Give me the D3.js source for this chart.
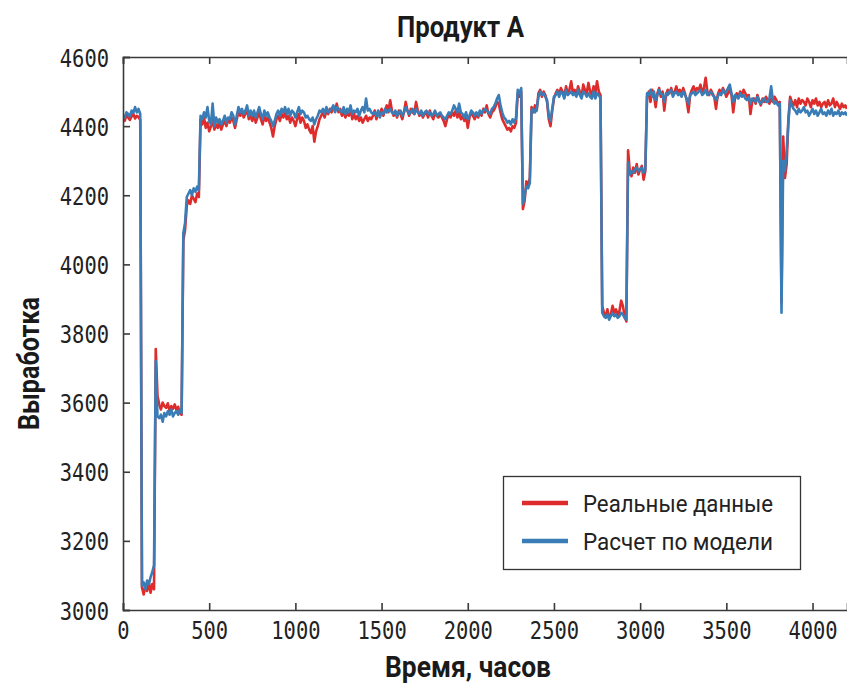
<!DOCTYPE html>
<html>
<head>
<meta charset="utf-8">
<script src="https://cdn.jsdelivr.net/npm/d3@7"></script>
<style>
  html, body { margin: 0; padding: 0; background: #fff; }
  svg { display: block; }
</style>
</head>
<body>
<svg id="chart" width="847" height="686"></svg>
<script>
// Hourly output of product A, sampled every 10 hours (index * STEP = hour).
const STEP = 10;

const realData = [
  4420, 4415, 4432, 4425, 4418, 4428, 4435, 4422, 4430, 4426, 4418,
  3065, 3045, 3070, 3055, 3080, 3050, 3075, 3060,
  3755, 3620,
  3595, 3580, 3600, 3590, 3585, 3598, 3575, 3590, 3582, 3595, 3578, 3588, 3570, 3565,
  4070, 4100, 4170, 4185, 4175, 4200, 4190, 4180, 4205, 4195,
  4420, 4405, 4425, 4395, 4410, 4385, 4400, 4415, 4390, 4405,
  4395, 4410, 4390, 4405, 4415, 4400, 4420, 4410, 4425, 4415,
  4395, 4420, 4440, 4430, 4445, 4425, 4435, 4450, 4420, 4430,
  4415, 4435, 4410, 4425, 4440, 4420, 4405, 4430, 4415, 4425,
  4410, 4395, 4370, 4400, 4420, 4430, 4415, 4435, 4425, 4440,
  4420, 4430, 4410, 4425, 4415, 4400, 4420, 4435, 4410, 4425,
  4415, 4395, 4405, 4390, 4380, 4400, 4355, 4385, 4400, 4420,
  4430, 4440, 4425, 4445, 4435, 4450, 4440, 4455, 4445, 4465,
  4440, 4450, 4430, 4445, 4425, 4440, 4430, 4450, 4420, 4435,
  4420, 4430, 4415, 4425, 4410, 4420, 4430, 4415, 4425, 4420,
  4430, 4445, 4420, 4440, 4435, 4450, 4430, 4445, 4460, 4440,
  4475, 4445, 4430, 4440, 4425, 4445, 4435, 4420, 4440, 4470,
  4445, 4430, 4450, 4440, 4435, 4470, 4445, 4430, 4440, 4425,
  4435, 4440, 4425, 4445, 4430, 4420, 4440, 4430, 4425, 4435,
  4425, 4415, 4400, 4420, 4435, 4425, 4440, 4430, 4445, 4425,
  4440, 4420, 4430, 4415, 4430, 4395, 4425, 4440, 4430, 4420,
  4435, 4425, 4440, 4430, 4450, 4440, 4460, 4435, 4425, 4440,
  4445, 4455, 4470, 4465, 4440, 4420, 4410, 4400, 4390, 4395,
  4385, 4400, 4395, 4410, 4495, 4485, 4500,
  4160, 4185, 4240, 4230, 4250,
  4455, 4440, 4460, 4445,
  4495, 4505, 4485, 4500, 4490, 4470, 4420, 4400, 4445,
  4480, 4495, 4505, 4490, 4510, 4500, 4485, 4515, 4495, 4505,
  4530, 4495, 4505, 4490, 4515, 4500, 4485, 4520, 4505, 4495,
  4525, 4500, 4490, 4515, 4495, 4530, 4500, 4490,
  3880, 3860, 3850, 3870, 3845, 3855, 3880, 3860, 3870, 3850, 3865, 3895, 3880, 3850, 3835,
  4330,
  4270, 4255, 4280, 4265, 4290, 4260, 4275, 4285, 4245, 4270,
  4485, 4500, 4470, 4505, 4490, 4455, 4495, 4510, 4485, 4500,
  4445, 4490, 4505, 4495, 4510, 4490, 4500, 4515, 4495, 4505,
  4490, 4510, 4495, 4475, 4440, 4490, 4505, 4515, 4500, 4510,
  4505, 4520, 4495, 4510, 4540, 4500, 4490, 4505, 4495, 4485,
  4450, 4490, 4505, 4495, 4510, 4500, 4485, 4495, 4505, 4490,
  4440, 4480, 4495, 4485, 4500, 4490, 4505, 4495, 4485, 4490,
  4435, 4470, 4480, 4465, 4490, 4475, 4460, 4480, 4470, 4485,
  4475, 4465, 4480, 4470, 4485, 4475, 4465, 4470,
  3890, 4370, 4250, 4290, 4420,
  4485, 4470, 4460, 4475, 4455, 4480, 4465, 4475, 4470, 4460,
  4480, 4470, 4455, 4475, 4465, 4480, 4460, 4470, 4455, 4465,
  4470, 4455, 4475, 4460, 4465, 4480, 4455, 4470, 4460, 4450, 4465, 4455, 4460, 4450
];

const modelData = [
  4430, 4425, 4440, 4435, 4428, 4445, 4438, 4455, 4440, 4450, 4435,
  3070, 3080, 3060, 3085, 3075, 3095, 3110, 3130,
  3720, 3560,
  3555, 3565, 3545, 3570, 3560, 3575, 3565, 3580, 3560, 3570, 3575, 3565, 3580, 3570,
  4090, 4120, 4195, 4205, 4215, 4200, 4220, 4210, 4225, 4215,
  4430, 4420, 4440, 4425, 4455, 4415, 4405, 4465, 4400, 4425,
  4410, 4420, 4405, 4415, 4430, 4410, 4425, 4420, 4440, 4430,
  4405, 4430, 4455, 4440, 4450, 4435, 4445, 4460, 4430, 4445,
  4430, 4445, 4425, 4440, 4455, 4435, 4420, 4445, 4430, 4440,
  4425, 4415, 4400, 4415, 4435, 4445, 4430, 4450, 4440, 4455,
  4435, 4450, 4430, 4445, 4440, 4425, 4440, 4455, 4435, 4445,
  4440, 4425, 4430, 4420, 4415, 4425, 4405, 4420, 4430, 4445,
  4440, 4450, 4435, 4455, 4440, 4445, 4450, 4460, 4440, 4455,
  4450, 4445, 4440, 4455, 4435, 4450, 4440, 4460, 4435, 4445,
  4440, 4450, 4430, 4445, 4455, 4440, 4480, 4445, 4450, 4440,
  4435, 4440, 4430, 4445, 4425, 4440, 4435, 4450, 4440, 4445,
  4450, 4440, 4435, 4445, 4430, 4440, 4445, 4430, 4440, 4455,
  4445, 4435, 4440, 4450, 4435, 4450, 4440, 4435, 4445, 4430,
  4440, 4445, 4435, 4440, 4430, 4435, 4445, 4430, 4435, 4440,
  4430, 4425, 4420, 4430, 4440, 4435, 4445, 4460, 4450, 4440,
  4465, 4440, 4435, 4425, 4440, 4420, 4430, 4445, 4440, 4430,
  4440, 4430, 4445, 4435, 4445, 4450, 4445, 4440, 4435, 4450,
  4455, 4465, 4480, 4490, 4460, 4440, 4425, 4420, 4410, 4415,
  4405, 4420, 4410, 4425, 4505, 4495, 4510,
  4175, 4200, 4225, 4220, 4235,
  4445, 4450, 4440, 4450,
  4485, 4500, 4490, 4495, 4485, 4475, 4430, 4415, 4450,
  4485, 4490, 4500, 4485, 4500, 4495, 4480, 4505, 4490, 4495,
  4500, 4490, 4495, 4485, 4505, 4490, 4480, 4500, 4495, 4485,
  4495, 4485, 4480, 4500, 4480, 4495, 4490, 4480,
  3860, 3850, 3845, 3855, 3840, 3850, 3860, 3850, 3855, 3845, 3850, 3860, 3855, 3845, 3840,
  4295,
  4260, 4270, 4265, 4275, 4280, 4270, 4275, 4280, 4265, 4275,
  4495, 4490, 4505, 4485, 4500, 4475, 4490, 4505, 4495, 4490,
  4470, 4495, 4490, 4500, 4505, 4485, 4495, 4500, 4490, 4495,
  4485, 4500, 4490, 4480, 4465, 4490, 4495, 4500, 4490, 4495,
  4500, 4505, 4490, 4495, 4505, 4490, 4495, 4500, 4490, 4485,
  4475, 4485, 4495, 4490, 4505, 4495, 4500, 4510, 4520, 4495,
  4470, 4490, 4485, 4480, 4495, 4485, 4490, 4480, 4475, 4485,
  4465, 4480, 4475, 4470, 4485, 4470, 4465, 4475, 4480, 4470,
  4470, 4480, 4515, 4475, 4465, 4470, 4460, 4465,
  3860, 4300, 4270, 4330, 4410,
  4475, 4460, 4450, 4445, 4435, 4450, 4440, 4445, 4455, 4440,
  4445, 4430, 4440, 4450, 4435, 4445, 4430, 4440, 4450, 4435,
  4440, 4430, 4445, 4435, 4450, 4430, 4440, 4435, 4445, 4430, 4440, 4435, 4440, 4430
];

const xTicks = [0, 500, 1000, 1500, 2000, 2500, 3000, 3500, 4000];
const yTicks = [3000, 3200, 3400, 3600, 3800, 4000, 4200, 4400, 4600];

const seriesNames = ["Реальные данные", "Расчет по модели"];
const seriesColors = ["#de2b2b", "#3a7db6"];
const titleText = "Продукт А";
const xTitle = "Время, часов";
const yTitle = "Выработка";

const svg = d3.select("#chart");
const plotLeft = 123, plotRight = 847, plotTop = 57, plotBottom = 610;

const x = d3.scaleLinear().domain([0, 4200]).range([plotLeft, plotRight]);
const y = d3.scaleLinear().domain([3000, 4600]).range([plotBottom, plotTop]);

const axisColor = "#3a3a3a";
const tickFont = "'DejaVu Sans Mono', 'Liberation Mono', monospace";
const headFont = "'Roboto', 'Liberation Sans', sans-serif";
const plain = d3.format("d");

// clip the series to the plotting box
svg.append("defs").append("clipPath").attr("id", "plotClip")
  .append("rect").attr("x", plotLeft).attr("y", plotTop)
  .attr("width", plotRight - plotLeft).attr("height", plotBottom - plotTop);

const line = d3.line()
  .x((d, i) => x(i * STEP))
  .y(d => y(d));

const plot = svg.append("g").attr("clip-path", "url(#plotClip)");
[realData, modelData].forEach((data, k) => {
  plot.append("path")
    .datum(data)
    .attr("fill", "none")
    .attr("stroke", seriesColors[k])
    .attr("stroke-width", 2.6)
    .attr("stroke-linejoin", "round")
    .attr("d", line);
});

// axes: ticks point inward
const tickLen = 7;
const xAxis = svg.append("g").attr("transform", `translate(0,${plotBottom})`)
  .call(d3.axisBottom(x).tickValues(xTicks).tickFormat(plain).tickSize(-tickLen));
const xTop = svg.append("g").attr("transform", `translate(0,${plotTop})`)
  .call(d3.axisTop(x).tickValues(xTicks).tickSize(-tickLen).tickFormat(""));
const yAxis = svg.append("g").attr("transform", `translate(${plotLeft},0)`)
  .call(d3.axisLeft(y).tickValues(yTicks).tickFormat(plain).tickSize(-tickLen));

[xAxis, xTop, yAxis].forEach(g => {
  g.select(".domain").attr("stroke", axisColor).attr("stroke-width", 1.6);
  g.selectAll(".tick line").attr("stroke", axisColor).attr("stroke-width", 1.6);
  g.selectAll(".tick text")
    .attr("fill", "#222")
    .style("font-family", tickFont)
    .style("font-size", "24px")
    .attr("lengthAdjust", "spacingAndGlyphs")
    .attr("textLength", function () { return this.textContent.length * 12.3; });
});
xAxis.selectAll(".tick text").attr("dy", null).attr("y", 29);
yAxis.selectAll(".tick text").attr("dy", null).attr("x", -14).attr("y", 9);

// titles
svg.append("text")
  .attr("x", 460.5).attr("y", 37)
  .attr("text-anchor", "middle")
  .style("font-family", headFont).style("font-weight", "bold").style("font-size", "30px")
  .attr("textLength", 127).attr("lengthAdjust", "spacingAndGlyphs")
  .attr("fill", "#1a1a1a")
  .text(titleText);

svg.append("text")
  .attr("x", 468).attr("y", 677)
  .attr("text-anchor", "middle")
  .style("font-family", headFont).style("font-weight", "bold").style("font-size", "30px")
  .attr("textLength", 166).attr("lengthAdjust", "spacingAndGlyphs")
  .attr("fill", "#1a1a1a")
  .text(xTitle);

svg.append("text")
  .attr("transform", "translate(39,363.5) rotate(-90)")
  .attr("text-anchor", "middle")
  .style("font-family", headFont).style("font-weight", "bold").style("font-size", "30px")
  .attr("textLength", 133).attr("lengthAdjust", "spacingAndGlyphs")
  .attr("fill", "#1a1a1a")
  .text(yTitle);

// legend
const legend = svg.append("g");
legend.append("rect")
  .attr("x", 503.5).attr("y", 476.5).attr("width", 297).attr("height", 93)
  .attr("fill", "#fff").attr("stroke", "#333").attr("stroke-width", 1.3);
seriesNames.forEach((name, k) => {
  const ly = 503 + k * 38;
  legend.append("line")
    .attr("x1", 522).attr("x2", 568).attr("y1", ly).attr("y2", ly)
    .attr("stroke", seriesColors[k]).attr("stroke-width", 4.5);
  legend.append("text")
    .attr("x", 583).attr("y", ly + 9)
    .style("font-family", headFont).style("font-size", "24px")
    .attr("textLength", 190).attr("lengthAdjust", "spacingAndGlyphs")
    .attr("fill", "#222")
    .text(name);
});
</script>
</body>
</html>
